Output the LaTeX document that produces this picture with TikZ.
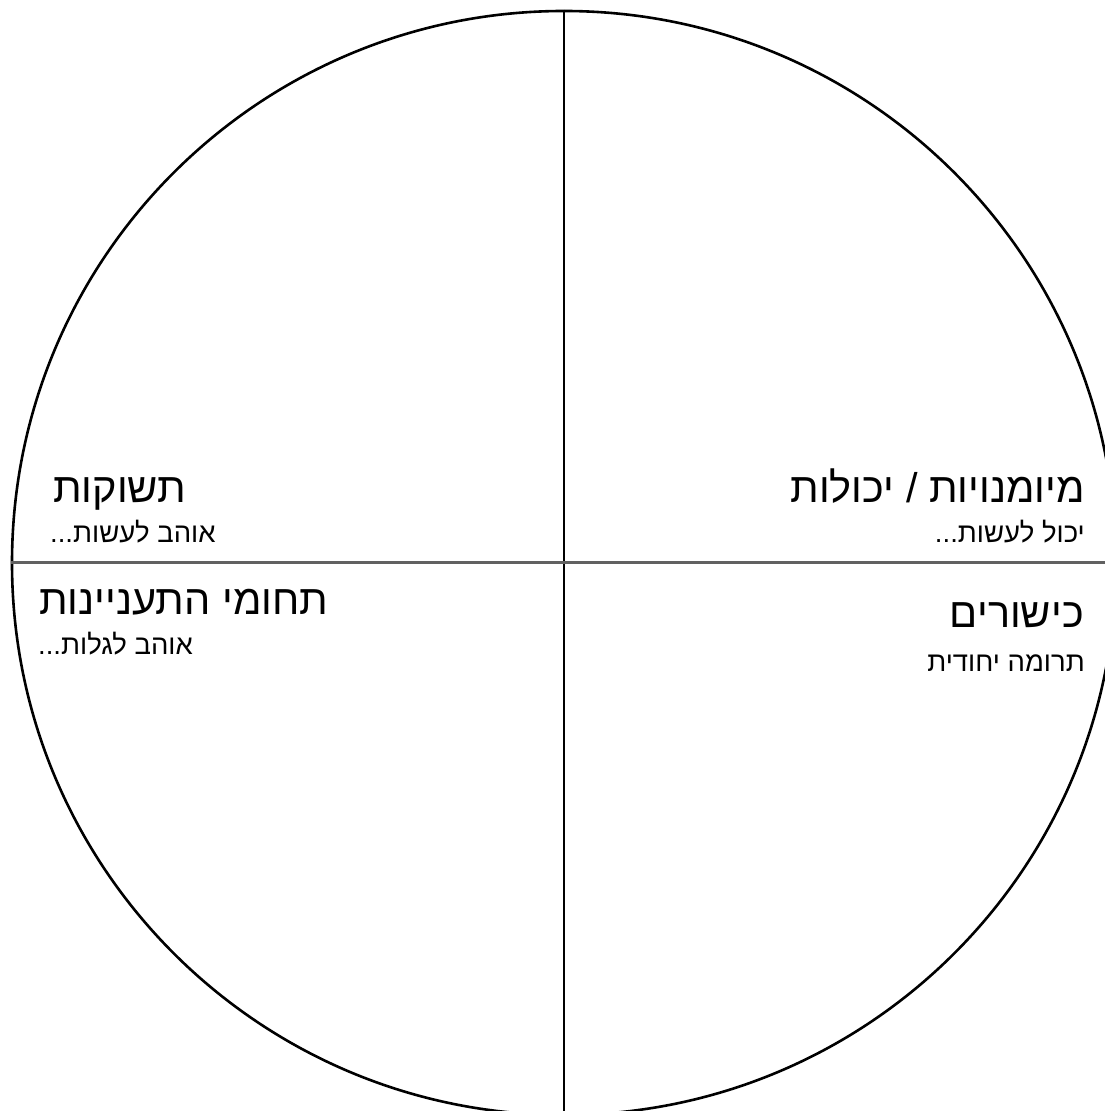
\documentclass[tikz,border=0pt]{standalone}
\usepackage{fontspec}
\newfontfamily\hebfont[Script=Hebrew]{Liberation Sans}
\TeXXeTstate=1

\begin{document}
\begin{tikzpicture}[x=1pt,y=1pt,
    headtext/.style={inner sep=0pt,font=\hebfont\fontsize{41.5}{44}\selectfont},
    subtext/.style={inner sep=0pt,font=\hebfont\fontsize{27.5}{30}\selectfont}]
  \useasboundingbox (0,0) rectangle (1105,1111);
  \clip (0,0) rectangle (1105,1111);
  % the wheel and its two axes
  \node[draw,circle,line width=2.6pt,minimum size=1104pt,inner sep=0pt] (wheel) at (564,548) {};
  \draw[line width=1.6pt] (wheel.north) -- (wheel.south);
  \draw[line width=3pt,draw=black!62] (wheel.west) -- (wheel.east);
  % quadrant labels
  \node[headtext,anchor=base west] (passions) at (53,608) {\beginR תשוקות\endR};
  \node[subtext,anchor=base west] (passionssub) at (50,568) {\beginR אוהב לעשות...\endR};
  \node[headtext,anchor=base east] (skills) at (1085,608) {\beginR מיומנויות / יכולות\endR};
  \node[subtext,anchor=base east] (skillssub) at (1085,568) {\beginR יכול לעשות...\endR};
  \node[headtext,anchor=base west] (interests) at (39,496) {\beginR תחומי התעניינות\endR};
  \node[subtext,anchor=base west] (interestssub) at (38,456) {\beginR אוהב לגלות...\endR};
  \node[headtext,anchor=base east] (talents) at (1084,483) {\beginR כישורים\endR};
  \node[subtext,anchor=base east] (talentssub) at (1085,439) {\beginR תרומה יחודית\endR};
\end{tikzpicture}
\end{document}
